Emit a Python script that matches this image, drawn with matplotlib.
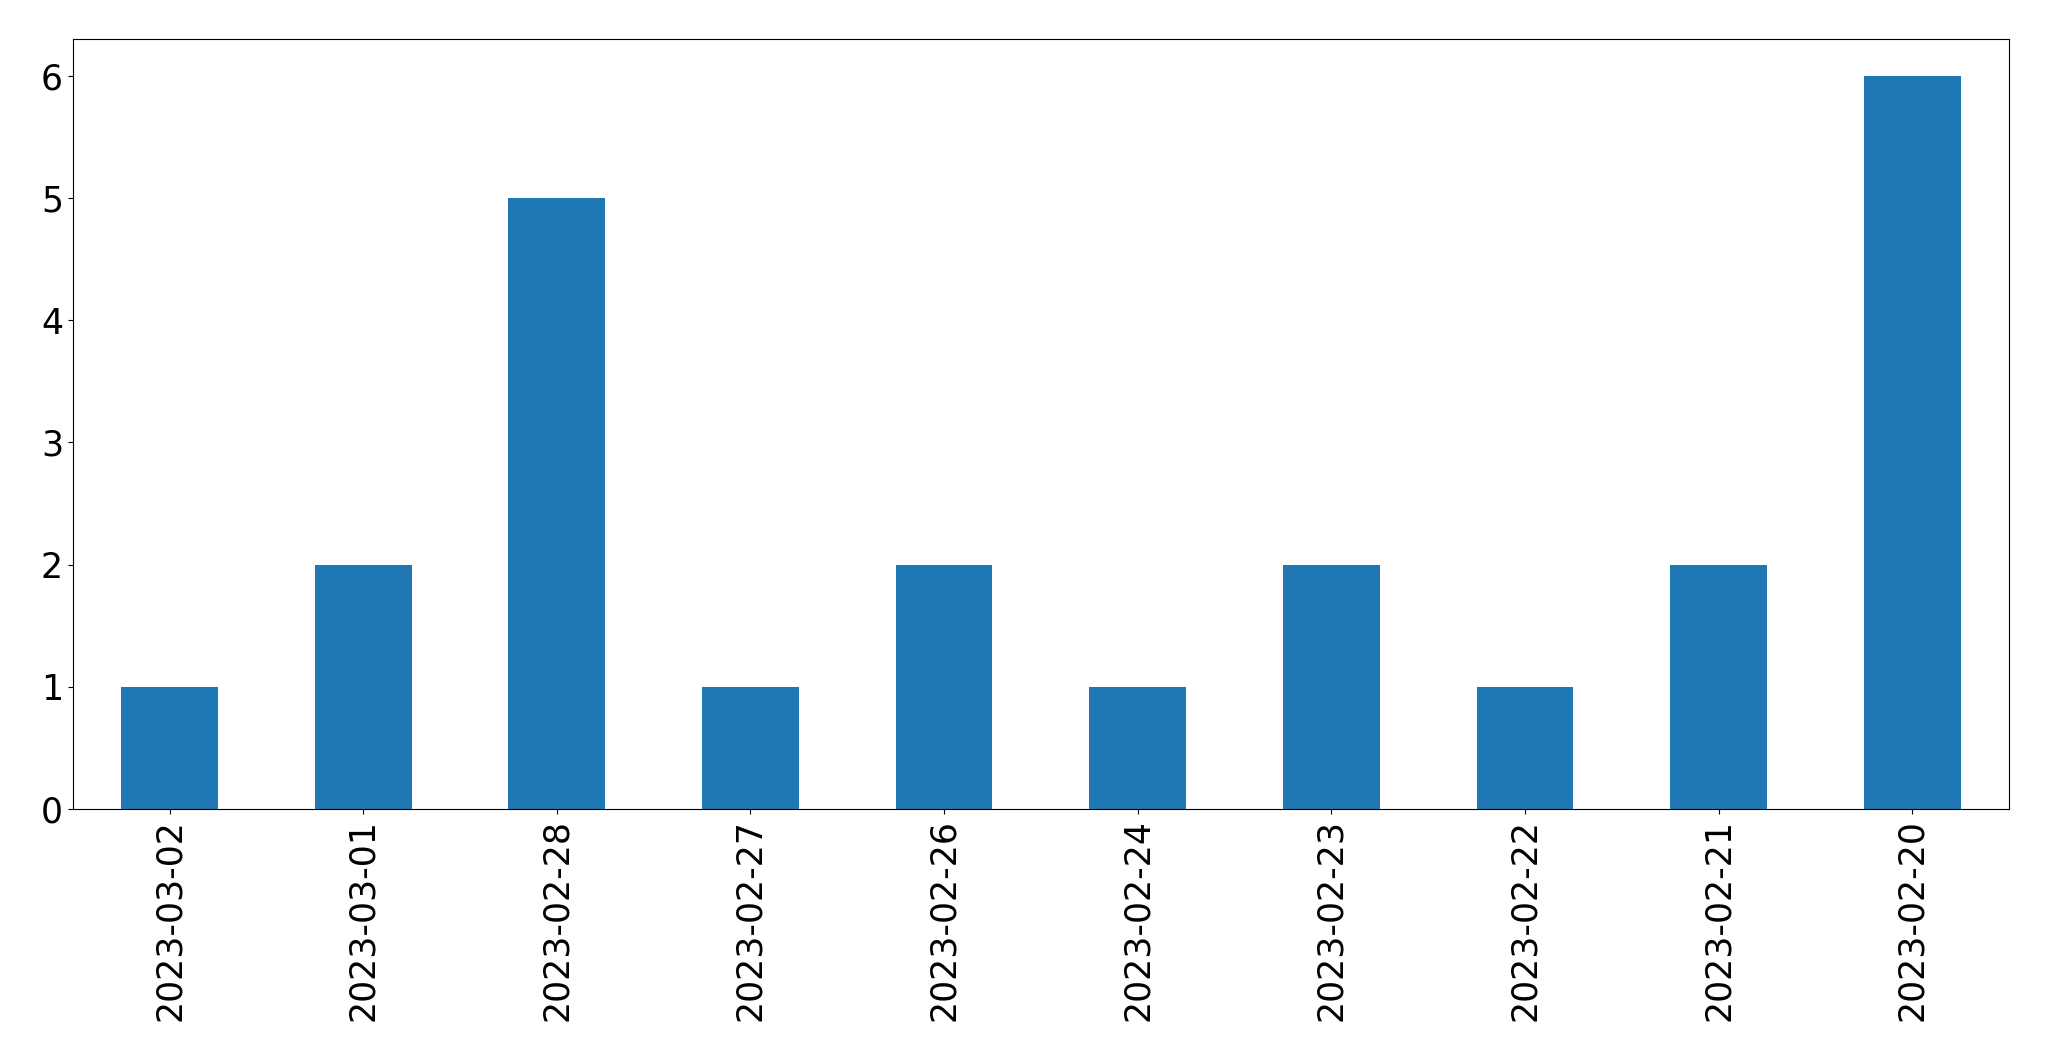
import matplotlib
matplotlib.use("Agg")
import matplotlib.pyplot as plt
import numpy as np

# data
dates = ['2023-03-02', '2023-03-01', '2023-02-28', '2023-02-27', '2023-02-26',
         '2023-02-24', '2023-02-23', '2023-02-22', '2023-02-21', '2023-02-20']
counts = [1, 2, 5, 1, 2, 1, 2, 1, 2, 6]

fig, ax = plt.subplots(figsize=(20.49, 10.61), dpi=100)
fig.subplots_adjust(left=0.0355, right=0.9805, top=0.9632, bottom=0.2375)

x = np.arange(len(dates))
ax.bar(x, counts, width=0.5, color='#1f77b4')
ax.set_xlim(-0.5, len(dates) - 0.5)
ax.set_xticks(x)
ax.set_xticklabels(dates, rotation=90)
ax.tick_params(axis='both', labelsize=25)

fig.savefig('out.png', dpi=100)
